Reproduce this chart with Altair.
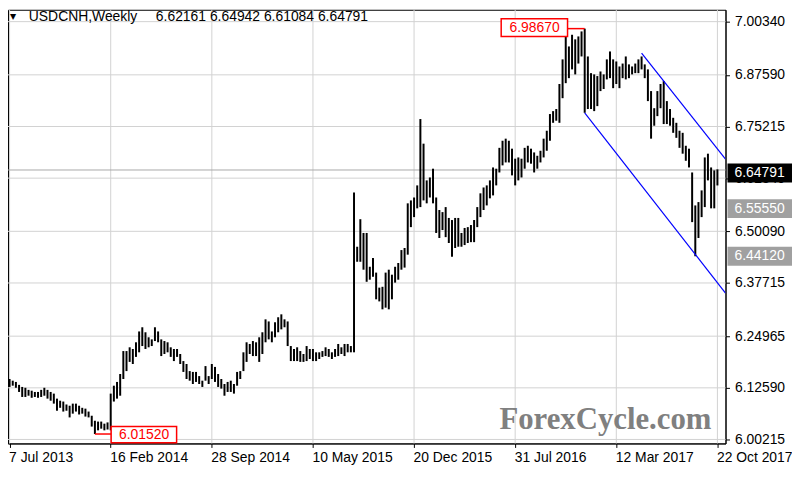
import altair as alt
import pandas as pd

# ---------------- data ----------------
symbol = "USDCNH,Weekly"
last_ohlc = [6.62161, 6.64942, 6.61084, 6.64791]
first_week = "2013-07-07"

highs = [
    6.147, 6.143, 6.140, 6.133, 6.128, 6.126, 6.121, 6.119, 6.116, 6.116,
    6.121, 6.126, 6.121, 6.116, 6.112, 6.100, 6.095, 6.093, 6.086, 6.083,
    6.088, 6.088, 6.083, 6.078, 6.076, 6.069, 6.059, 6.047, 6.045, 6.045,
    6.040, 6.043, 6.112, 6.131, 6.140, 6.159, 6.214, 6.214, 6.223, 6.219,
    6.235, 6.261, 6.271, 6.259, 6.247, 6.242, 6.271, 6.261, 6.242, 6.238,
    6.235, 6.223, 6.219, 6.219, 6.207, 6.190, 6.183, 6.166, 6.164, 6.164,
    6.154, 6.143, 6.178, 6.154, 6.183, 6.176, 6.159, 6.147, 6.135, 6.140,
    6.143, 6.135, 6.164, 6.166, 6.211, 6.235, 6.231, 6.238, 6.235, 6.247,
    6.259, 6.290, 6.285, 6.261, 6.283, 6.295, 6.302, 6.290, 6.285, 6.226,
    6.219, 6.223, 6.214, 6.207, 6.226, 6.219, 6.219, 6.211, 6.211, 6.214,
    6.223, 6.219, 6.211, 6.219, 6.231, 6.223, 6.231, 6.231, 6.226, 6.594,
    6.464, 6.530, 6.497, 6.497, 6.416, 6.437, 6.402, 6.366, 6.368, 6.402,
    6.409, 6.397, 6.416, 6.425, 6.456, 6.461, 6.568, 6.575, 6.582, 6.611,
    6.770, 6.711, 6.623, 6.630, 6.651, 6.582, 6.552, 6.547, 6.559, 6.533,
    6.528, 6.533, 6.533, 6.497, 6.509, 6.511, 6.516, 6.528, 6.559, 6.592,
    6.606, 6.611, 6.623, 6.654, 6.651, 6.701, 6.718, 6.723, 6.718, 6.699,
    6.675, 6.678, 6.675, 6.701, 6.706, 6.699, 6.690, 6.682, 6.694, 6.723,
    6.742, 6.782, 6.789, 6.794, 6.854, 6.913, 6.968, 6.944, 6.972, 6.961,
    6.968, 6.980, 6.9867, 6.920, 6.880, 6.877, 6.873, 6.884, 6.877, 6.913,
    6.932, 6.913, 6.908, 6.896, 6.903, 6.920, 6.901, 6.896, 6.903, 6.913,
    6.920, 6.901, 6.889, 6.837, 6.796, 6.837, 6.854, 6.861, 6.813, 6.794,
    6.773, 6.761, 6.742, 6.737, 6.706, 6.699, 6.642, 6.563, 6.571, 6.599,
    6.678, 6.687, 6.654, 6.647, 6.64942,
]

lows = [
    6.128, 6.131, 6.126, 6.116, 6.104, 6.104, 6.107, 6.102, 6.104, 6.102,
    6.104, 6.107, 6.100, 6.095, 6.088, 6.071, 6.078, 6.069, 6.071, 6.055,
    6.064, 6.069, 6.062, 6.064, 6.057, 6.055, 6.033, 6.0152, 6.024, 6.028,
    6.024, 6.026, 6.024, 6.093, 6.100, 6.107, 6.147, 6.166, 6.188, 6.183,
    6.200, 6.211, 6.226, 6.219, 6.223, 6.226, 6.238, 6.235, 6.202, 6.207,
    6.211, 6.200, 6.190, 6.200, 6.183, 6.164, 6.147, 6.143, 6.135, 6.140,
    6.135, 6.128, 6.143, 6.135, 6.147, 6.140, 6.128, 6.124, 6.107, 6.116,
    6.116, 6.112, 6.131, 6.147, 6.166, 6.188, 6.207, 6.202, 6.202, 6.188,
    6.207, 6.235, 6.242, 6.235, 6.247, 6.259, 6.266, 6.271, 6.226, 6.190,
    6.190, 6.190, 6.188, 6.188, 6.190, 6.195, 6.190, 6.190, 6.195, 6.200,
    6.202, 6.200, 6.195, 6.200, 6.202, 6.207, 6.202, 6.211, 6.211, 6.211,
    6.428, 6.428, 6.409, 6.380, 6.385, 6.392, 6.338, 6.333, 6.314, 6.318,
    6.314, 6.338, 6.378, 6.385, 6.409, 6.414, 6.445, 6.511, 6.535, 6.556,
    6.559, 6.575, 6.568, 6.582, 6.568, 6.497, 6.485, 6.504, 6.487, 6.473,
    6.440, 6.461, 6.464, 6.464, 6.468, 6.473, 6.475, 6.475, 6.511, 6.535,
    6.552, 6.563, 6.580, 6.587, 6.611, 6.642, 6.659, 6.666, 6.666, 6.635,
    6.611, 6.623, 6.630, 6.651, 6.666, 6.663, 6.642, 6.651, 6.666, 6.678,
    6.694, 6.718, 6.761, 6.766, 6.761, 6.820, 6.856, 6.868, 6.889, 6.877,
    6.903, 6.920, 6.785, 6.794, 6.794, 6.789, 6.801, 6.837, 6.842, 6.865,
    6.868, 6.844, 6.854, 6.844, 6.868, 6.865, 6.868, 6.877, 6.880, 6.880,
    6.889, 6.868, 6.813, 6.723, 6.754, 6.777, 6.796, 6.758, 6.758, 6.754,
    6.737, 6.725, 6.701, 6.687, 6.670, 6.654, 6.523, 6.4412, 6.485, 6.535,
    6.559, 6.623, 6.556, 6.556, 6.61084,
]

y_ticks = [7.00340, 6.87590, 6.75215, 6.62840, 6.50090, 6.37715, 6.24965, 6.12590, 6.00215]
x_ticks = ["2013-07-07", "2014-02-16", "2014-09-28", "2015-05-10",
           "2015-12-20", "2016-07-31", "2017-03-12", "2017-10-22"]
x_domain = ["2013-07-03T12:00:00Z", "2017-11-08T22:00:00Z"]
y_domain = [5.9926, 7.0319]

channel_line = ["upper", "upper", "lower", "lower"]
channel_dates = ["2017-05-07", "2017-11-08T22:00:00Z", "2017-01-01", "2017-11-08T22:00:00Z"]
channel_prices = [6.928, 6.674, 6.785, 6.353]

axis_label_prices = [6.64791, 6.55550, 6.44120]
axis_label_fills = ["#000000", "#a0a0a0", "#a0a0a0"]
axis_label_shift = [3, 0, 0]

extreme_text = ["6.98670", "6.01520"]
extreme_price = [6.9867, 6.0152]
extreme_text_price = [6.9886, 6.0131]
extreme_text_date = ["2016-09-12", "2014-05-01"]
extreme_box_from = ["2016-06-30", "2014-02-17"]
extreme_box_to = ["2016-11-24", "2014-07-12"]
extreme_box_top = [7.0105, 6.0331]
extreme_box_bottom = [6.9677, 5.9940]
extreme_bar_date = ["2017-01-01", "2014-01-12"]

watermark = "ForexCycle.com"

# ---------------- tables ----------------
bars = pd.DataFrame({
    "date": pd.date_range(first_week, periods=len(highs), freq="7D").strftime("%Y-%m-%d"),
    "high": highs,
    "low": lows,
})
channels = pd.DataFrame({"line": channel_line, "date": channel_dates, "price": channel_prices})
extremes = pd.DataFrame({
    "text": extreme_text, "price": extreme_price, "tprice": extreme_text_price,
    "tdate": extreme_text_date, "bx0": extreme_box_from, "bx1": extreme_box_to,
    "by0": extreme_box_top, "by1": extreme_box_bottom, "bar": extreme_bar_date,
})
connectors = pd.DataFrame({
    "d0": [extreme_box_to[0], extreme_bar_date[1]],
    "d1": [extreme_bar_date[0], extreme_box_from[1]],
    "price": extreme_price,
})
hgrid = pd.DataFrame({"gprice": y_ticks})
vgrid = pd.DataFrame({"gdate": x_ticks})


def dt(s):
    t = pd.Timestamp(s)
    return alt.DateTime(year=t.year, month=t.month, date=t.day,
                        hours=t.hour, minutes=t.minute, utc=True)


FONT = "Liberation Sans"
W, H = 723, 437
GRID = "#d2d2d2"

xscale = alt.Scale(type="utc", domain=[dt(x_domain[0]), dt(x_domain[1])])
yscale = alt.Scale(domain=y_domain, zero=False, nice=False)

xaxis = alt.Axis(values=[dt(v) for v in x_ticks], format="%-d %b %Y", title=None,
                 labelAlign="left", labelFlush=False, labelOverlap=False,
                 labelOffset=-1, tickSize=4, labelPadding=3, grid=False, zindex=0)
yaxis = alt.Axis(values=y_ticks, format=".5f", orient="right", title=None,
                 labelOverlap=False, labelFlush=False, tickSize=4, labelPadding=5,
                 grid=False, zindex=0)


def X(field):
    return alt.X(field, scale=xscale, axis=xaxis, title=None)


def Y(field):
    return alt.Y(field, scale=yscale, axis=yaxis, title=None)


grid_v = alt.Chart(vgrid).mark_rule(strokeWidth=1).encode(
    x=X("gdate:T"), color=alt.value(GRID),
)
grid_h = alt.Chart(hgrid).mark_rule(strokeWidth=1).encode(
    y=Y("gprice:Q"), color=alt.value(GRID),
)

bid = alt.Chart(pd.DataFrame({"price": [last_ohlc[3]]})).mark_rule(
    color="#a8a8a8", strokeWidth=1
).encode(y=Y("price:Q"))

ohlc = alt.Chart(bars).mark_rule(color="black", strokeWidth=2, strokeCap="butt").encode(
    x=X("date:T"), y=Y("low:Q"), y2="high:Q",
)

chan = alt.Chart(channels).mark_line(color="#0000ff", strokeWidth=1.2, clip=True).encode(
    x=X("date:T"), y=Y("price:Q"), detail="line:N",
)

conn = alt.Chart(connectors).mark_rule(color="#ff0000", strokeWidth=1.5).encode(
    x=X("d0:T"), x2="d1:T", y=Y("price:Q"),
)

boxes = alt.Chart(extremes).mark_rect(fill="white", stroke="#ff0000", strokeWidth=1.5).encode(
    x=X("bx0:T"), x2="bx1:T", y=Y("by0:Q"), y2="by1:Q",
)

box_text = alt.Chart(extremes).mark_text(
    color="#ff0000", font=FONT, fontSize=14, align="center", baseline="middle"
).encode(x=X("tdate:T"), y=Y("tprice:Q"), text="text:N")

right_layers = []
for p, f, s in zip(axis_label_prices, axis_label_fills, axis_label_shift):
    d = pd.DataFrame({"price": [p], "label": [f"{p:.5f}"]})
    right_layers.append(
        alt.Chart(d).mark_rule(strokeWidth=19, strokeCap="butt", color=f, yOffset=s).encode(
            x=alt.value(725), x2=alt.value(790), y=Y("price:Q"))
    )
    right_layers.append(
        alt.Chart(d).mark_text(color="white", font=FONT, fontSize=14, align="left",
                               baseline="middle", yOffset=s).encode(
            x=alt.value(732), y=Y("price:Q"), text="label:N")
    )

wm = alt.Chart(pd.DataFrame({"t": [watermark]})).mark_text(
    font="Liberation Serif", fontSize=31, fontWeight="bold", color="#808080",
    align="center", baseline="middle"
).encode(x=alt.value(602), y=alt.value(413), text="t:N")

tri = alt.Chart(pd.DataFrame({"t": ["\u25bc"]})).mark_text(
    font="DejaVu Sans", fontSize=8, color="black", align="left", baseline="middle"
).encode(x=alt.value(2), y=alt.value(7), text="t:N")

title_sym = alt.Chart(pd.DataFrame({"t": [symbol]})).mark_text(
    font=FONT, fontSize=14, color="black", align="left", baseline="middle"
).encode(x=alt.value(21), y=alt.value(7), text="t:N")

title_vals = alt.Chart(pd.DataFrame({"t": [" ".join(f"{v:.5f}" for v in last_ohlc)]})).mark_text(
    font=FONT, fontSize=14, color="black", align="left", baseline="middle"
).encode(x=alt.value(149), y=alt.value(7), text="t:N")

chart = alt.layer(
    grid_v, grid_h, bid, ohlc, chan, conn, boxes, box_text, *right_layers,
    wm, tri, title_sym, title_vals
).properties(
    width=W, height=H,
    autosize=alt.AutoSizeParams(type="none"),
    padding={"left": 0, "top": 0, "right": 67, "bottom": 27},
    background="white",
).configure_view(
    stroke="black", strokeWidth=1
).configure_axis(
    labelFont=FONT, labelFontSize=14, labelColor="black",
    tickColor="black", domainColor="black",
)

chart.save("out.html", embed_options={"renderer": "svg", "actions": False})
